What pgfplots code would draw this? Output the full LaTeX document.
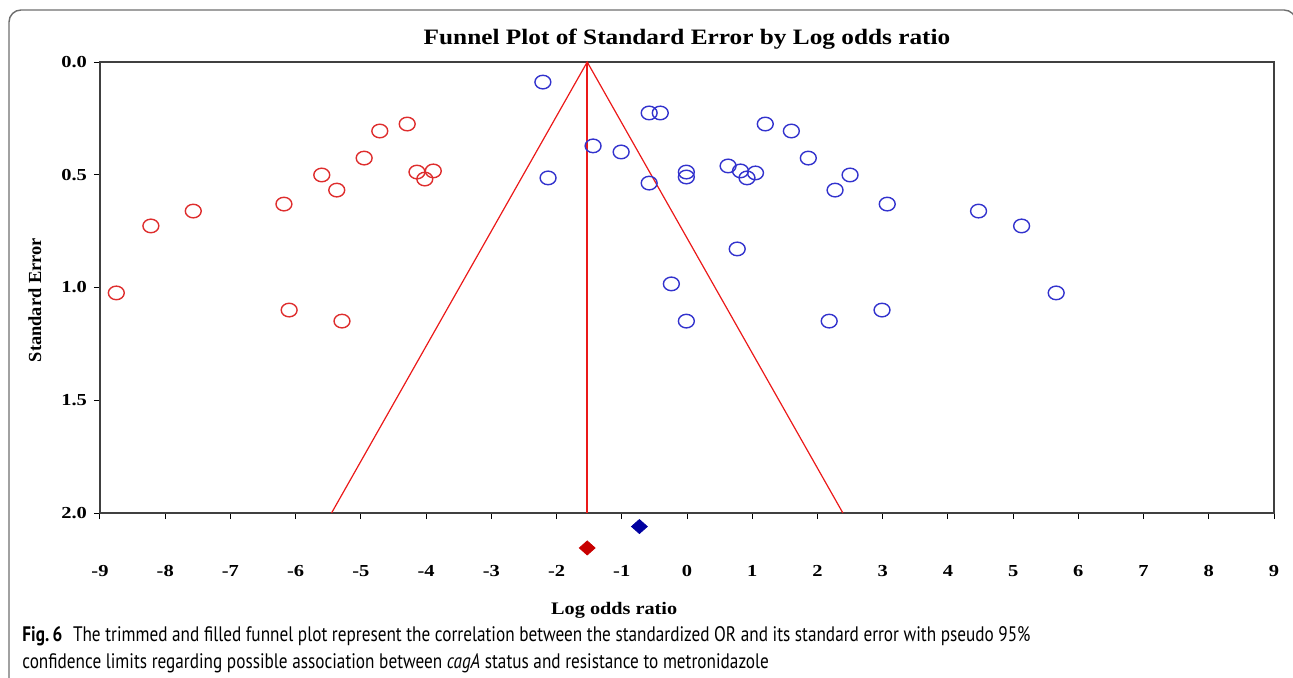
\documentclass[border=0pt]{standalone}
\usepackage{fontspec}
\setmainfont{Liberation Serif}
\newfontfamily\chartfont[FakeStretch=1.15]{Liberation Serif}
\newfontfamily\tickfont[FakeStretch=1.22]{Liberation Serif}
\newfontfamily\capfont[FakeStretch=0.82]{PT Sans}
\usepackage{pgfplots}
\pgfplotsset{compat=1.18}
\definecolor{ptred}{RGB}{222,45,45}
\definecolor{ptblue}{RGB}{50,50,205}
\definecolor{dred}{RGB}{200,0,0}
\definecolor{dblue}{RGB}{0,0,160}
\definecolor{funnelred}{RGB}{235,25,25}
\definecolor{framegray}{RGB}{110,110,110}
\begin{document}
\begin{tikzpicture}
\useasboundingbox (-50pt,-82.5pt) rectangle (596.5pt,256.5pt);
\draw[framegray, line width=0.7pt, rounded corners=6pt] (-45.5pt,-95pt) -- (-45.5pt,251.5pt) -- (598pt,251.5pt) -- (598pt,-95pt);
\begin{axis}[
  at={(0,0)}, anchor=south west,
  scale only axis, width=587pt, height=225.5pt,
  xmin=-9, xmax=9, ymin=0, ymax=2, y dir=reverse,
  clip=false,
  xtick={-9,-8,...,9}, ytick={0,0.5,1,1.5,2},
  tick pos=left, tick align=outside,
  major tick length=3pt,
  axis line style={draw=black!75, line width=0.7pt},
  tick style={black, line width=0.5pt},
  /pgf/number format/assume math mode=true,
  yticklabel={\pgfmathprintnumber[fixed,fixed zerofill,precision=1]{\tick}},
  xticklabel style={font=\tickfont\bfseries\fontsize{8.4}{10}\selectfont, yshift=-19.5pt},
  yticklabel style={font=\tickfont\bfseries\fontsize{8.4}{10}\selectfont},
  title={Funnel Plot of Standard Error by Log odds ratio},
  title style={font=\chartfont\bfseries\fontsize{11}{13}\selectfont, at={(axis description cs:0.5,1.0133)}, anchor=base},
  xlabel={Log odds ratio},
  xlabel style={font=\chartfont\bfseries\fontsize{8.8}{10}\selectfont, at={(axis description cs:0.438,-0.226)}, anchor=base},
  ylabel={Standard Error},
  ylabel style={font=\bfseries\fontsize{9.2}{10}\selectfont, at={(axis description cs:-0.0554,0.472)}, anchor=center},
]
% funnel lines
\addplot[color=funnelred, line width=0.6pt, no marks] coordinates {(-5.45,2) (-1.53,0) (2.39,2)};
\addplot[color=funnelred, line width=0.8pt, no marks] coordinates {(-1.53,0.0) (-1.53,1.0) (-1.53,2.0)};
% imputed (red) studies
\addplot[only marks, mark=o, mark size=3.4pt, ptred, mark options={xscale=1.17, line width=0.7pt}] coordinates {
(-8.75,1.024) (-8.22,0.727) (-7.57,0.661) (-6.18,0.630) (-5.60,0.501) (-5.37,0.568)
(-4.95,0.426) (-4.71,0.306) (-4.29,0.275) (-4.14,0.488) (-4.02,0.519) (-3.89,0.483)
(-6.10,1.100) (-5.29,1.149)
};
% observed (blue) studies
\addplot[only marks, mark=o, mark size=3.4pt, ptblue, mark options={xscale=1.17, line width=0.7pt}] coordinates {
(-2.21,0.089) (-2.13,0.514) (-1.44,0.372) (-1.01,0.399) (-0.58,0.226) (-0.41,0.226)
(-0.58,0.537) (-0.01,0.488) (-0.01,0.510) (0.63,0.461) (0.82,0.483) (0.92,0.514)
(1.05,0.492) (1.20,0.275) (1.60,0.306) (1.86,0.426) (2.27,0.568) (2.50,0.501)
(3.07,0.630) (4.47,0.661) (5.13,0.727) (5.66,1.024) (0.77,0.829) (-0.24,0.984)
(-0.01,1.149) (2.18,1.149) (2.99,1.100)
};
% summary diamonds
\addplot[only marks, mark=diamond*, mark size=3.5pt, dblue, mark options={xscale=1.5}] coordinates {(-0.73,2.06)};
\addplot[only marks, mark=diamond*, mark size=3.5pt, dred, mark options={xscale=1.5}] coordinates {(-1.53,2.155)};
\end{axis}
\node[anchor=base west, inner sep=0, font=\capfont\fontsize{10.5}{13.5}\selectfont] at (-39pt,-64pt) {{\bfseries Fig.\,6}\enspace The trimmed and filled funnel plot represent the correlation between the standardized OR and its standard error with pseudo 95\%};
\node[anchor=base west, inner sep=0, font=\capfont\fontsize{10.5}{13.5}\selectfont] at (-39pt,-77.5pt) {confidence limits regarding possible association between \textit{cagA} status and resistance to metronidazole};
\end{tikzpicture}
\end{document}
